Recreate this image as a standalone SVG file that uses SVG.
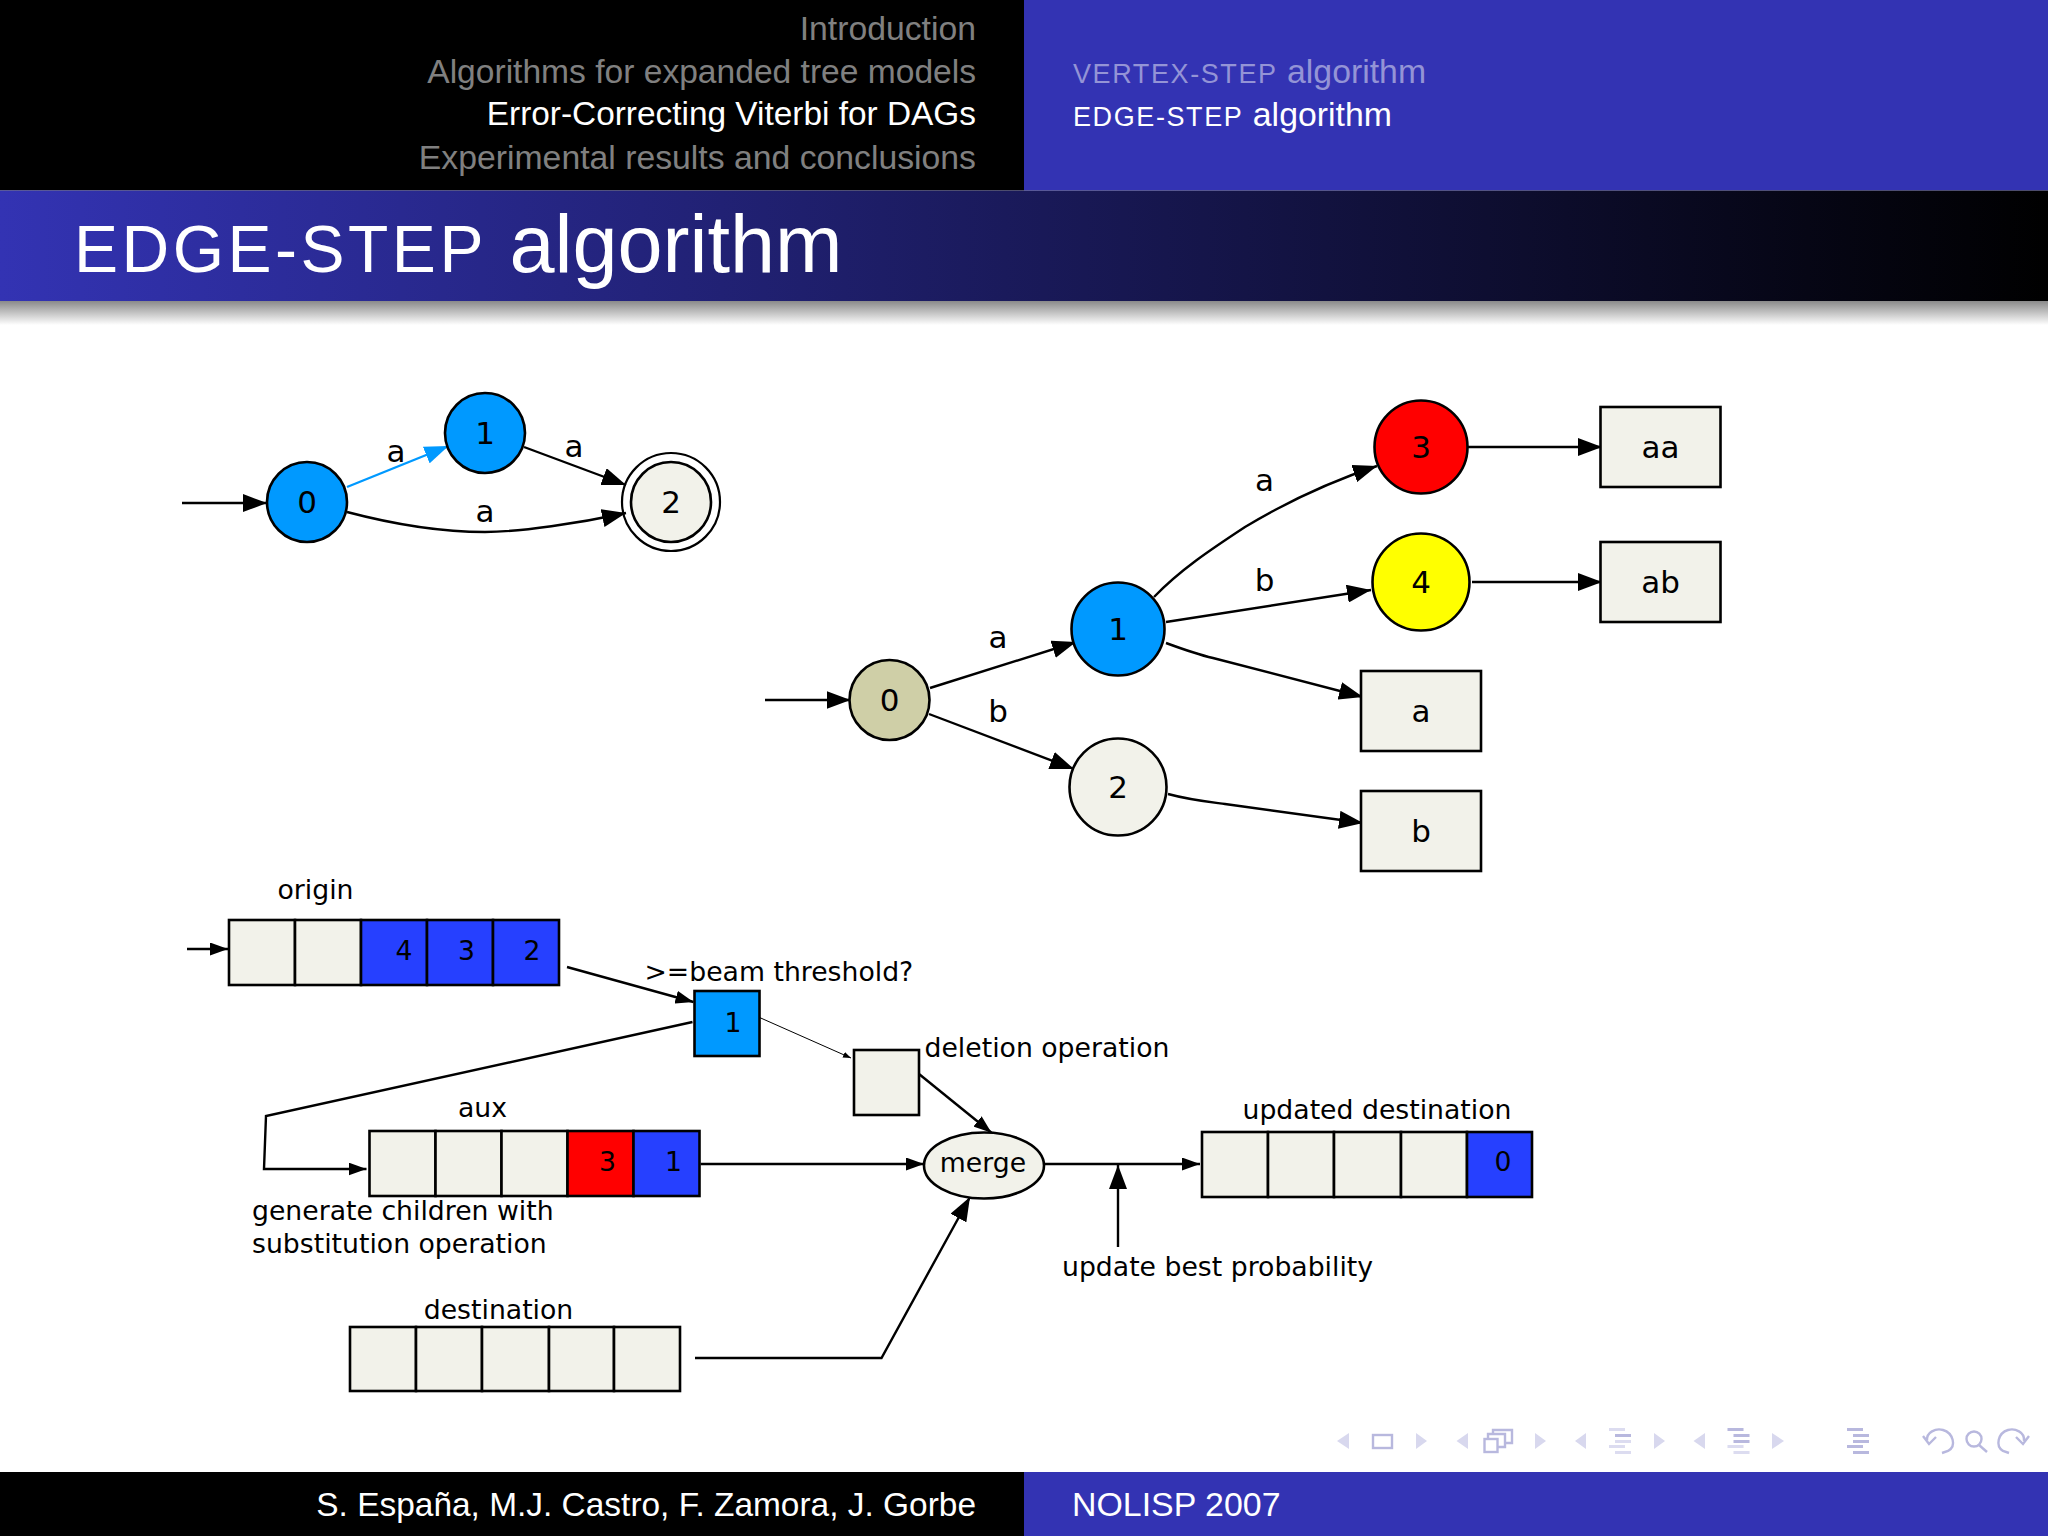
<svg xmlns="http://www.w3.org/2000/svg" width="2048" height="1536" viewBox="0 0 2048 1536">
<style>
.h{font-family:"Liberation Sans",Arial,sans-serif}
.d{font-family:"DejaVu Sans",sans-serif;font-size:26.700px;fill:#000}
.g{font-family:"DejaVu Sans",sans-serif;font-size:31px;fill:#000}
.c{text-anchor:middle}
.r{text-anchor:end}
.e{fill:none;stroke:#000;stroke-width:2.400}
.f{fill:#f2f2ea;stroke:#000;stroke-width:2.600}
.b{fill:#2640ff;stroke:#000;stroke-width:2.600}
.red{fill:#ff0000;stroke:#000;stroke-width:2.600}
.sky{fill:#0099ff;stroke:#000;stroke-width:2.600}
.t{fill:#d8d8ee}
.i{fill:none;stroke:#b8b8de;stroke-width:2.400}
.l1{fill:#b8b8de}
.l2{fill:#dcdcf0}
</style>
<defs>
<linearGradient id="tg" x1="0" x2="1" y1="0" y2="0"><stop offset="0" stop-color="#3333b3"/><stop offset="1" stop-color="#000"/></linearGradient>
<linearGradient id="sg" x1="0" x2="0" y1="0" y2="1"><stop offset="0" stop-color="#8a8a8a"/><stop offset="1" stop-color="#fff"/></linearGradient>
<marker id="L" markerUnits="userSpaceOnUse" markerWidth="24" markerHeight="18" refX="24" refY="9" orient="auto"><path d="M0 0L24 9L0 18z"/></marker>
<marker id="M" markerUnits="userSpaceOnUse" markerWidth="18" markerHeight="13" refX="18" refY="6.500" orient="auto"><path d="M0 0L18 6.500L0 13z"/></marker>
<marker id="S" markerUnits="userSpaceOnUse" markerWidth="8" markerHeight="6" refX="8" refY="3" orient="auto"><path d="M0 0L8 3L0 6z"/></marker>
<marker id="B" markerUnits="userSpaceOnUse" markerWidth="24" markerHeight="18" refX="24" refY="9" orient="auto"><path d="M0 0L24 9L0 18z" fill="#0099ff"/></marker>
</defs>
<rect width="2048" height="1536" fill="#fff"/>
<g id="header">
<rect width="1024" height="190.500" fill="#000"/>
<rect x="1024" width="1024" height="190.500" fill="#3333b3"/>
<g class="h" text-anchor="end" fill="#808080">
<text x="976" y="40" font-size="33.750">Introduction</text>
<text x="976" y="83" font-size="33.600">Algorithms for expanded tree models</text>
<text x="976" y="125" font-size="33.400" fill="#fff">Error-Correcting Viterbi for DAGs</text>
<text x="976" y="169" font-size="33.750">Experimental results and conclusions</text>
</g>
<g class="h" font-size="33.800">
<text x="1073" y="83" fill="#9494d6"><tspan font-size="27" letter-spacing="1.600">VERTEX-STEP</tspan> algorithm</text>
<text x="1073" y="126" fill="#fff"><tspan font-size="27" letter-spacing="1.600">EDGE-STEP</tspan> algorithm</text>
</g>
</g>
<g id="title">
<rect y="190.500" width="2048" height="111" fill="url(#tg)"/>
<rect y="301" width="2048" height="24" fill="url(#sg)"/>
<text class="h" x="74" y="272" font-size="81" fill="#fff"><tspan font-size="66" letter-spacing="3.500">EDGE-STEP</tspan> algorithm</text>
</g>
<g id="footer">
<rect y="1472" width="1024" height="64" fill="#000"/>
<rect x="1024" y="1472" width="1024" height="64" fill="#3333b3"/>
<text class="h r" x="976" y="1516" font-size="33.450" fill="#fff">S. España, M.J. Castro, F. Zamora, J. Gorbe</text>
<text class="h" x="1072" y="1516" font-size="33.900" fill="#fff">NOLISP 2007</text>
</g>
<g id="connectors">
<path class="e" d="M182 503H267" marker-end="url(#L)"/>
<path d="M347 487L448.500 446" fill="none" stroke="#0099ff" stroke-width="2.400" marker-end="url(#B)"/>
<path class="e" d="M524 447L626 485" marker-end="url(#L)"/>
<path class="e" d="M347 512C400 526 450 532 485 532C520 532 580 523 626 513" marker-end="url(#L)"/>
<path class="e" d="M765 700H850.500" marker-end="url(#L)"/>
<path class="e" d="M930 688L1076 642" marker-end="url(#L)"/>
<path class="e" d="M929 714L1074 769" marker-end="url(#L)"/>
<path class="e" d="M1154 597C1180 570 1210 550 1245 527C1290 500 1335 480 1377 466" marker-end="url(#L)"/>
<path class="e" d="M1166 622L1371 590" marker-end="url(#L)"/>
<path class="e" d="M1166 643C1185 650 1200 655 1213 658L1363 697" marker-end="url(#L)"/>
<path class="e" d="M1168 794C1190 800 1210 802 1225 804L1363 823" marker-end="url(#L)"/>
<path class="e" d="M1468 447H1602" marker-end="url(#L)"/>
<path class="e" d="M1472 582H1602" marker-end="url(#L)"/>
<path class="e" d="M187 949H228" stroke-width="3" marker-end="url(#M)"/>
<path class="e" d="M567 967L693.500 1002" marker-end="url(#M)"/>
<path d="M760 1017.700L851 1058" fill="none" stroke="#000" stroke-width="1" marker-end="url(#S)"/>
<path class="e" d="M692.500 1022L266 1116L264 1169H366.500" marker-end="url(#M)"/>
<path class="e" d="M700.600 1164H924" marker-end="url(#M)"/>
<path class="e" d="M919 1074L991.500 1132.700" marker-end="url(#M)"/>
<path class="e" d="M1045 1164H1200" marker-end="url(#M)"/>
<path class="e" d="M1118 1247V1165" marker-end="url(#L)"/>
<path class="e" d="M695 1358H881.500L970 1197" marker-end="url(#L)"/>
</g>
<g id="graph1">
<g id="g1n0"><circle class="sky" cx="307" cy="502" r="40"/><text class="g c" x="307" y="513">0</text></g>
<g id="g1n1"><circle class="sky" cx="485" cy="433" r="40"/><text class="g c" x="485" y="444">1</text></g>
<g id="g1n2"><circle cx="671" cy="502" r="49" fill="none" stroke="#000" stroke-width="2.200"/><circle class="f" cx="671" cy="502" r="40"/><text class="g c" x="671" y="513">2</text></g>
<text class="g c" x="396" y="462">a</text>
<text class="g c" x="574" y="457">a</text>
<text class="g c" x="485" y="522">a</text>
</g>
<g id="graph2">
<g id="g2n0"><circle cx="889.500" cy="700" r="40" fill="#cfcfa7" stroke="#000" stroke-width="2.600"/><text class="g c" x="889.500" y="711">0</text></g>
<g id="g2n1"><circle class="sky" cx="1118" cy="629" r="46.500"/><text class="g c" x="1118" y="640">1</text></g>
<g id="g2n2"><circle class="f" cx="1118" cy="787" r="48.500"/><text class="g c" x="1118" y="798">2</text></g>
<g id="g2n3"><circle class="red" cx="1421" cy="447" r="46.500"/><text class="g c" x="1421" y="458">3</text></g>
<g id="g2n4"><circle cx="1421" cy="582" r="48.500" fill="#ffff00" stroke="#000" stroke-width="2.600"/><text class="g c" x="1421" y="593">4</text></g>
<g id="g2aa"><rect class="f" x="1600.500" y="407" width="120" height="80"/><text class="g c" x="1660.500" y="458">aa</text></g>
<g id="g2ab"><rect class="f" x="1600.500" y="542" width="120" height="80"/><text class="g c" x="1660.500" y="593">ab</text></g>
<g id="g2a"><rect class="f" x="1361" y="671" width="120" height="80"/><text class="g c" x="1421" y="722">a</text></g>
<g id="g2b"><rect class="f" x="1361" y="791" width="120" height="80"/><text class="g c" x="1421" y="842">b</text></g>
<text class="g c" x="998" y="648">a</text>
<text class="g c" x="998" y="722">b</text>
<text class="g c" x="1264.500" y="491">a</text>
<text class="g c" x="1264.500" y="591">b</text>
</g>
<g id="origin">
<text class="d c" x="315.500" y="899">origin</text>
<rect class="f" x="229" y="920" width="66" height="65"/>
<rect class="f" x="295" y="920" width="66" height="65"/>
<rect class="b" x="361" y="920" width="66" height="65"/>
<rect class="b" x="427" y="920" width="66" height="65"/>
<rect class="b" x="493" y="920" width="66" height="65"/>
<text class="d c" x="404" y="960">4</text>
<text class="d c" x="466.500" y="960">3</text>
<text class="d c" x="532" y="960">2</text>
</g>
<g id="current">
<text class="d" x="644.500" y="981">&gt;=beam threshold?</text>
<rect class="sky" x="694.500" y="991" width="65" height="65"/>
<text class="d c" x="733" y="1032">1</text>
</g>
<g id="deletion">
<rect class="f" x="854" y="1050" width="65" height="65"/>
<text class="d" x="924.500" y="1057">deletion operation</text>
</g>
<g id="aux">
<text class="d c" x="482.500" y="1117">aux</text>
<rect class="f" x="369.500" y="1131" width="66" height="65"/>
<rect class="f" x="435.500" y="1131" width="66" height="65"/>
<rect class="f" x="501.500" y="1131" width="66" height="65"/>
<rect class="red" x="567.500" y="1131" width="66" height="65"/>
<rect class="b" x="633.500" y="1131" width="66" height="65"/>
<text class="d c" x="607.500" y="1171">3</text>
<text class="d c" x="673.500" y="1171">1</text>
<text class="d" x="252" y="1220">generate children with</text>
<text class="d" x="252" y="1253">substitution operation</text>
</g>
<g id="merge">
<ellipse class="f" cx="984" cy="1165.500" rx="60" ry="33"/>
<text class="d c" x="983" y="1172">merge</text>
</g>
<text class="d" x="1062" y="1276">update best probability</text>
<g id="updated">
<text class="d" x="1242.500" y="1119">updated destination</text>
<rect class="f" x="1202" y="1132" width="66" height="65"/>
<rect class="f" x="1268" y="1132" width="66" height="65"/>
<rect class="f" x="1334" y="1132" width="67" height="65"/>
<rect class="f" x="1401" y="1132" width="66" height="65"/>
<rect class="b" x="1467" y="1132" width="65" height="65"/>
<text class="d c" x="1503" y="1171">0</text>
</g>
<g id="destination">
<text class="d c" x="498.500" y="1319">destination</text>
<rect class="f" x="350" y="1327" width="66" height="64"/>
<rect class="f" x="416" y="1327" width="66" height="64"/>
<rect class="f" x="482" y="1327" width="67" height="64"/>
<rect class="f" x="549" y="1327" width="65" height="64"/>
<rect class="f" x="614" y="1327" width="66" height="64"/>
</g>
<g id="nav">
<path class="t" d="M1349 1433V1449L1337 1441z"/>
<rect class="i" x="1373" y="1435" width="19" height="13"/>
<path class="t" d="M1416 1433V1449L1427 1441z"/>
<path class="t" d="M1468 1433V1449L1456.500 1441z"/>
<rect class="i" x="1484.500" y="1439" width="13" height="13"/>
<path class="i" d="M1488 1439V1434H1505V1447H1498M1493 1434V1430H1512V1443H1505"/>
<path class="t" d="M1535 1433V1449L1546 1441z"/>
<path class="t" d="M1586 1433V1449L1575 1441z"/>
<path class="l2" d="M1609 1428h16v3h-16zM1615 1434h16v3h-16zM1615 1440h16v3h-16zM1609 1445h16v3h-16zM1615 1451h16v3h-16z"/>
<path class="l1" d="M1615 1434h16v3h-16z"/>
<path class="t" d="M1654 1433V1449L1665 1441z"/>
<path class="t" d="M1705 1433V1449L1693.500 1441z"/>
<path class="l2" d="M1727.500 1445h16v3h-16zM1733.500 1451h16v3h-16z"/>
<path class="l1" d="M1727.500 1428h16v3h-16zM1733.500 1434h16v3h-16zM1733.500 1440h16v3h-16z"/>
<path class="t" d="M1772 1433V1449L1784 1441z"/>
<path class="l1" d="M1847 1428h16v3h-16zM1853 1434h16v3h-16zM1853 1440h16v3h-16zM1847 1445h16v3h-16zM1853 1451h16v3h-16z"/>
<path class="i" d="M1927 1441C1926 1432 1936 1428 1943 1430C1953 1433 1957 1446 1948 1451L1942 1453M1923 1436L1929 1444L1936 1437"/>
<circle class="i" cx="1974" cy="1439" r="7.500"/>
<path class="i" d="M1979 1445L1987 1452" stroke-width="3.500"/>
<path class="i" d="M2024 1441C2025 1432 2015 1428 2008 1430C1998 1433 1995 1446 2003 1451L2009 1453M2029 1436L2023 1444L2016 1437"/>
</g>
</svg>
